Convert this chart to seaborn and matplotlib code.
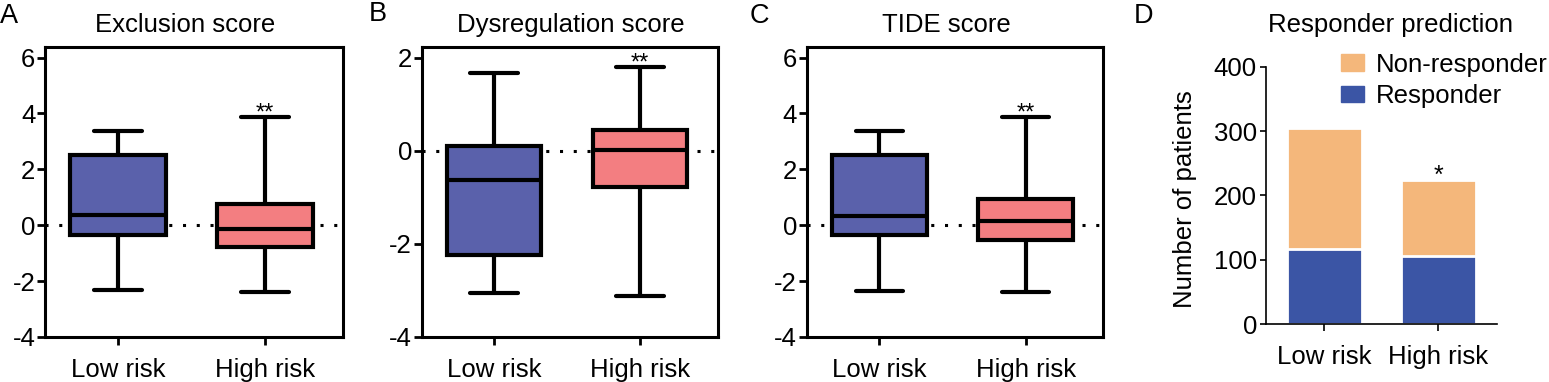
import pandas as pd
import matplotlib
matplotlib.use("Agg")
import matplotlib.pyplot as plt
from matplotlib.patches import Patch
import seaborn as sns

# dados: [min, q1, mediana, q3, max]
groups = ["Low risk", "High risk"]
excl_low = [-2.32, -0.36, 0.36, 2.50, 3.39]
excl_high = [-2.40, -0.77, -0.15, 0.75, 3.87]
dys_low = [-3.05, -2.23, -0.63, 0.11, 1.68]
dys_high = [-3.11, -0.78, 0.02, 0.44, 1.80]
tide_low = [-2.36, -0.36, 0.32, 2.50, 3.39]
tide_high = [-2.40, -0.54, 0.14, 0.95, 3.87]

responders = [116, 105]
non_responders = [188, 119]

box_colors = ["#5A61AB", "#F37E81"]
c_resp = "#3B55A5"
c_nonresp = "#F4B77B"

sns.set_theme(style="ticks", rc={
    "axes.edgecolor": "black", "xtick.color": "black", "ytick.color": "black",
    "text.color": "black", "axes.labelcolor": "black",
})
plt.rcParams["font.family"] = ["Liberation Sans", "DejaVu Sans"]

W, H = 1549, 382
fig = plt.figure(figsize=(W / 100, H / 100), dpi=100)


def px_axes(x0, x1, y0, y1):
    return fig.add_axes([x0 / W, 1 - y1 / H, (x1 - x0) / W, (y1 - y0) / H])


def make_df(low, high):
    return pd.DataFrame({
        "group": [groups[0]] * len(low) + [groups[1]] * len(high),
        "score": low + high,
    })


# Função para desenhar um painel de boxplot
def box_panel(ax, low, high, ylim, yticks, xlim):
    df = make_df(low, high)
    ax.axhline(0, color="black", linestyle=(0, (1, 3.5)), linewidth=2.2, zorder=0.5)
    sns.boxplot(data=df, x="group", y="score", hue="group", palette=box_colors,
                legend=False, width=0.65, linewidth=3, linecolor="black",
                whis=(0, 100), saturation=1, ax=ax)
    ax.set_ylim(*ylim)
    ax.set_xlim(*xlim)
    ax.set_yticks(yticks)
    ax.set_yticklabels([str(t) for t in yticks])
    ax.set_xlabel("")
    ax.set_ylabel("")
    for s in ax.spines.values():
        s.set_linewidth(2.2)
        s.set_visible(True)
    ax.tick_params(axis="y", length=5.5, width=2, pad=1.5, labelsize=18.5)
    ax.tick_params(axis="x", length=5.5, width=2, pad=9.5, labelsize=18.5)
    ax.annotate("**", xy=(1, high[-1]), xytext=(0, -2), textcoords="offset points",
                ha="center", va="baseline", fontsize=17)


axA = px_axes(45, 343, 47, 337)
box_panel(axA, excl_low, excl_high, (-4, 6.38), [-4, -2, 0, 2, 4, 6], (-0.497, 1.53))
axB = px_axes(421.7, 718, 47, 337)
box_panel(axB, dys_low, dys_high, (-4, 2.23), [-4, -2, 0, 2], (-0.495, 1.534))
axC = px_axes(806.7, 1102.7, 47, 337)
box_panel(axC, tide_low, tide_high, (-4, 6.38), [-4, -2, 0, 2, 4, 6], (-0.496, 1.526))

# Painel D: barras empilhadas
axD = px_axes(1266, 1496.7, 66.7, 324)
totals = [r + n for r, n in zip(responders, non_responders)]
sns.barplot(x=groups, y=totals, color=c_nonresp, saturation=1, width=0.66,
            edgecolor="white", linewidth=2, ax=axD)
sns.barplot(x=groups, y=responders, color=c_resp, saturation=1, width=0.66,
            edgecolor="white", linewidth=2, ax=axD)
axD.set_ylim(0, 400)
axD.set_xlim(-0.51, 1.51)
axD.set_yticks([0, 100, 200, 300, 400])
sns.despine(ax=axD)
for s in axD.spines.values():
    s.set_linewidth(1.2)
axD.tick_params(axis="y", length=4.5, width=1.2, pad=2, labelsize=18.5)
axD.tick_params(axis="x", length=5, width=1.2, pad=10, labelsize=18.5)
axD.annotate("*", xy=(1, totals[1]), xytext=(0, -2), textcoords="offset points",
             ha="center", va="baseline", fontsize=18)
axD.legend(handles=[Patch(color=c_nonresp, label="Non-responder"),
                    Patch(color=c_resp, label="Responder")],
           loc="upper left", bbox_to_anchor=(0.325, 1.055), frameon=False,
           borderpad=0, borderaxespad=0, handlelength=0.9, handleheight=0.6,
           handletextpad=0.45, labelspacing=0.3, fontsize=18.5)

fig.text(1185 / W, 1 - 199 / H, "Number of patients", rotation=90,
         ha="center", va="center", fontsize=18.5)

# títulos e letras dos painéis
titles = [("Exclusion score", 185.5), ("Dysregulation score", 570.5),
          ("TIDE score", 946.7), ("Responder prediction", 1391)]
for t, x in titles:
    fig.text(x / W, 1 - 32 / H, t, ha="center", va="baseline", fontsize=18.5)
for lab, x, y in [("A", 9, 16), ("B", 378, 14), ("C", 759, 16), ("D", 1143, 16)]:
    fig.text(x / W, 1 - y / H, lab, ha="center", va="center", fontsize=19.5)

fig.savefig("out.png", dpi=100)
